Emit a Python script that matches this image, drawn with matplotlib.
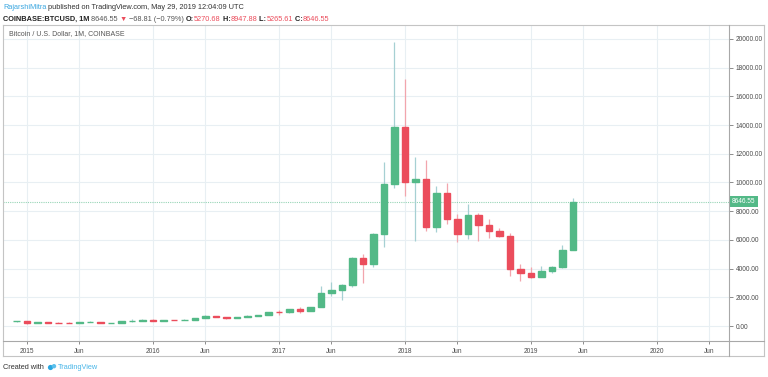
import matplotlib.pyplot as plt
from matplotlib.lines import Line2D
from matplotlib.patches import Circle

# --- datos mensuales COINBASE:BTCUSD ---
meses = ['2014-12',
         '2015-01', '2015-02', '2015-03', '2015-04', '2015-05', '2015-06',
         '2015-07', '2015-08', '2015-09', '2015-10', '2015-11', '2015-12',
         '2016-01', '2016-02', '2016-03', '2016-04', '2016-05', '2016-06',
         '2016-07', '2016-08', '2016-09', '2016-10', '2016-11', '2016-12',
         '2017-01', '2017-02', '2017-03', '2017-04', '2017-05', '2017-06',
         '2017-07', '2017-08', '2017-09', '2017-10', '2017-11', '2017-12',
         '2018-01', '2018-02', '2018-03', '2018-04', '2018-05', '2018-06',
         '2018-07', '2018-08', '2018-09', '2018-10', '2018-11', '2018-12',
         '2019-01', '2019-02', '2019-03', '2019-04', '2019-05']
apertura = [330, 345, 218, 254, 244, 236, 230, 264, 284, 230, 236, 314, 377,
            430, 369, 437, 416, 448, 531, 673, 624, 575, 609, 700, 745,
            990, 965, 1190, 1080, 1350, 2300, 2500, 2860, 4740, 4320, 6410, 9900,
            13870, 10030, 10240, 6900, 9270, 7460, 6410, 7740, 7010, 6590, 6290, 3970,
            3690, 3410, 3830, 4110, 5270.68]
maximo = [380, 350, 265, 300, 261, 248, 268, 318, 287, 243, 334, 502, 470,
          463, 449, 440, 468, 547, 780, 704, 627, 630, 740, 750, 980,
          1150, 1200, 1350, 1350, 2790, 3060, 2910, 4800, 5000, 6470, 11400, 19800,
          17200, 11800, 11600, 9750, 9960, 7780, 8500, 7870, 7460, 6800, 6480, 4320,
          4110, 4180, 4180, 5640, 8947.88]
minimo = [300, 165, 212, 236, 214, 225, 220, 254, 198, 225, 236, 300, 350,
          350, 363, 395, 412, 437, 526, 606, 480, 590, 605, 680, 740,
          750, 920, 890, 1060, 1350, 2090, 1810, 2700, 2990, 4100, 5500, 9600,
          9060, 5900, 6600, 6550, 7100, 5850, 6060, 5920, 6130, 6200, 3480, 3140,
          3350, 3380, 3700, 4050, 5265.61]
cierre = [345, 218, 254, 244, 236, 230, 264, 284, 230, 236, 314, 377, 430,
          369, 437, 416, 448, 531, 673, 624, 575, 609, 700, 745, 963,
          965, 1190, 1080, 1350, 2300, 2500, 2860, 4740, 4320, 6410, 9900, 13870,
          10030, 10240, 6900, 9270, 7460, 6410, 7740, 7010, 6590, 6290, 3970, 3690,
          3410, 3830, 4110, 5270.68, 8646.55]

ticks_y = [0, 2000, 4000, 6000, 8000, 10000, 12000, 14000, 16000, 18000, 20000]
ticks_x_meses = ['2015-01', '2015-06', '2016-01', '2016-06', '2017-01', '2017-06',
                 '2018-01', '2018-06', '2019-01', '2019-06', '2020-01', '2020-06']
ticks_x_etiquetas = ['2015', 'Jun', '2016', 'Jun', '2017', 'Jun',
                     '2018', 'Jun', '2019', 'Jun', '2020', 'Jun']
ultimo_precio = 8646.55

VERDE = '#53b987'
ROJO = '#eb4d5c'
MECHA_VERDE = '#a6d0d3'
MECHA_ROJA = '#f2a5ad'
GRID = '#e8eff3'
BORDE = '#c4c4c4'
FUENTE = ['Liberation Sans', 'DejaVu Sans']
plt.rcParams['font.family'] = FUENTE


def indice_mes(m):
    anio, mes = m.split('-')
    return (int(anio) - 2015) * 12 + int(mes) - 1


W, H = 768, 377
fig = plt.figure(figsize=(W / 100, H / 100), dpi=100, facecolor='white')

# --- panel principal ---
ax = fig.add_axes([3 / W, (H - 341) / H, (729 - 3) / W, (341 - 25) / H])
ax.set_facecolor('white')
for s in ax.spines.values():
    s.set_visible(False)

x = [indice_mes(m) for m in meses]
for xi, o, hi, lo, c in zip(x, apertura, maximo, minimo, cierre):
    sube = c >= o
    ax.vlines(xi, lo, hi, color=MECHA_VERDE if sube else MECHA_ROJA, lw=0.9, zorder=2)
    ax.bar(xi, abs(c - o), bottom=min(o, c), width=0.64,
           color=VERDE if sube else ROJO, edgecolor=VERDE if sube else ROJO,
           linewidth=1.0, zorder=3)

ax.axhline(ultimo_precio, color=VERDE, ls=(0, (1, 1)), lw=0.8, alpha=0.6, zorder=1)

ax.set_xlim((3 - 27) / 10.5, (729 - 27) / 10.5)
ax.set_ylim(-1045, 20975)

ax.set_xticks([indice_mes(m) for m in ticks_x_meses])
ax.set_xticklabels(ticks_x_etiquetas)
ax.set_yticks(ticks_y)
ax.set_yticklabels([f'{v:.2f}' for v in ticks_y])
ax.yaxis.tick_right()
ax.tick_params(axis='y', length=3, width=0.6, color='#7a7a7a', labelsize=4.7,
               labelcolor='#4a4a4a', pad=2)
ax.tick_params(axis='x', length=2.5, width=0.6, color='#7a7a7a', labelsize=4.7,
               labelcolor='#4a4a4a', pad=2.5)
ax.grid(True, color=GRID, lw=0.8, zorder=0)
ax.set_axisbelow(True)

ax.text(6 / (729 - 3), 1 - 9 / (341 - 25), 'Bitcoin / U.S. Dollar, 1M, COINBASE',
        transform=ax.transAxes, fontsize=5.0, color='#555555', va='center', ha='left')

# etiqueta del ultimo precio
ax.annotate(f'{ultimo_precio:.2f}', xy=(1, ultimo_precio), xycoords=ax.get_yaxis_transform(),
            xytext=(2.2, 0), textcoords='offset points', va='center', ha='left',
            fontsize=4.7, color='white', annotation_clip=False,
            bbox=dict(boxstyle='square,pad=0.3', fc=VERDE, ec='none'))

# --- marcos ---
def linea(x0, y0, x1, y1, color=BORDE, lw=0.8):
    fig.add_artist(Line2D([x0 / W, x1 / W], [1 - y0 / H, 1 - y1 / H], color=color, lw=lw))

linea(3, 25, 764, 25)
linea(3, 356, 764, 356)
linea(3, 25, 3, 356)
linea(764, 25, 764, 356)
linea(729, 25, 729, 356, color='#a8a8a8')
linea(3, 341, 764, 341, color='#a8a8a8')

# --- encabezado ---
capa = fig.add_axes([0, 0, 1, 1], zorder=5)
capa.axis('off')
capa.set_xlim(0, W)
capa.set_ylim(H, 0)


def encadenar(partes, x0, y0):
    t = None
    for texto, color, peso in partes:
        if t is None:
            t = capa.text(x0, y0, texto, color=color, fontweight=peso, fontsize=5.3,
                          va='bottom', ha='left')
        else:
            t = capa.annotate(texto, xy=(1, 0), xycoords=t, color=color, fontweight=peso,
                              fontsize=5.3, va='bottom', ha='left')
    return t


encadenar([('RajarshiMitra', '#3ba7e0', 'normal'),
           (' published on TradingView.com, May 29, 2019 12:04:09 UTC', '#333333', 'normal')],
          3, 11)
encadenar([('COINBASE:BTCUSD, 1M', '#222222', 'bold'),
           (' 8646.55 ', '#555555', 'normal'),
           ('▼', ROJO, 'normal'),
           (' \u221268.81 (\u22120.79%) ', '#555555', 'normal'),
           ('O:', '#222222', 'bold'), ('5270.68', ROJO, 'normal'),
           (' H:', '#222222', 'bold'), ('8947.88', ROJO, 'normal'),
           (' L:', '#222222', 'bold'), ('5265.61', ROJO, 'normal'),
           (' C:', '#222222', 'bold'), ('8646.55', ROJO, 'normal')],
          3, 23)

# --- pie ---
capa.text(3, 371, 'Created with', fontsize=5.3, color='#333333', va='bottom', ha='left')
capa.add_patch(Circle((50.5, 367.5), 2.6, color='#2aa6e0', lw=0))
capa.add_patch(Circle((54, 366.2), 2.2, color='#5cc0ec', lw=0))
capa.text(58, 371, 'TradingView', fontsize=5.3, color='#49b6e8', va='bottom', ha='left')

fig.savefig('out.png', dpi=100, facecolor='white')
